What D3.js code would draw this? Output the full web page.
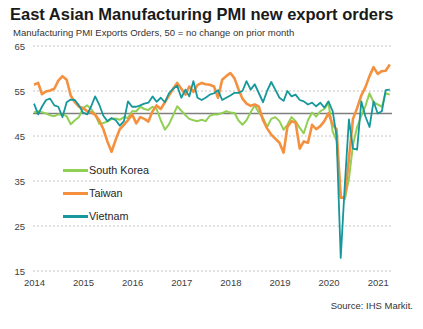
<!DOCTYPE html>
<html>
<head>
<meta charset="utf-8">
<script src="https://cdn.jsdelivr.net/npm/d3@7/dist/d3.min.js"></script>
<style>
  html, body { margin: 0; padding: 0; background: #ffffff; }
  svg { display: block; font-family: "Liberation Sans", Arial, sans-serif; }
</style>
</head>
<body>
<svg id="chart" width="423" height="329"></svg>
<script>
// ---- Data (monthly, Jan 2014 – Apr 2021) ----
const startYear = 2014;
const southKorea = [
  50.3, 50.5, 50.3, 50.0, 49.6, 49.4, 49.8, 49.8, 49.4, 47.6, 48.5, 49.2,
  51.2, 51.8, 51.0, 49.8, 47.7, 47.9, 48.2, 48.8, 48.9, 48.6, 49.2, 49.0,
  50.5, 50.5, 51.5, 51.0, 50.8, 51.5, 51.0, 48.5, 46.4, 47.6, 49.6, 51.6,
  50.6, 49.6, 48.8, 48.5, 48.3, 48.6, 48.3, 49.5, 49.8, 49.8, 50.1, 50.5,
  50.2, 50.1, 48.5, 47.5, 48.5, 50.3, 51.8, 50.2, 49.0, 47.0, 48.8, 49.2,
  48.3, 46.4, 47.5, 49.2, 48.3, 46.8, 45.6, 48.5, 50.2, 49.3, 50.5, 51.0,
  52.3, 46.0, 44.0, 31.5, 31.0, 35.5, 43.0, 47.0, 49.5, 51.6, 54.5, 52.5,
  52.0, 51.5, 54.5, 54.2
];
const taiwan = [
  56.4, 56.8, 54.3, 54.9, 55.1, 55.5, 57.3, 58.3, 57.5, 54.0, 52.5, 51.5,
  51.2, 50.5, 50.3, 49.7, 48.5, 46.5, 43.8, 41.5, 44.2, 46.5, 47.5, 48.5,
  49.8, 47.8, 49.2, 48.8, 48.2, 50.5, 51.8, 51.0, 52.5, 54.0, 55.5, 56.8,
  55.5, 54.2, 56.0, 54.8, 56.3, 56.8, 56.5, 56.4, 56.0, 53.5, 57.5, 58.3,
  59.0, 57.8, 55.5, 53.3, 52.2, 51.7, 52.0, 51.5, 48.5, 46.7, 45.3, 44.4,
  43.5, 41.3, 47.0, 48.3, 48.0, 42.2, 43.8, 43.5, 47.5, 46.5, 47.2, 48.3,
  50.1, 47.5, 46.5, 31.3, 31.3, 40.0, 48.8, 51.2, 54.0, 55.8, 58.3, 60.3,
  58.8, 59.4, 59.5, 60.9
];
const vietnam = [
  52.2, 49.8, 51.5, 53.0, 53.3, 51.8, 51.5, 49.2, 52.5, 53.1, 53.0, 51.8,
  50.2, 49.8, 51.5, 53.8, 52.0, 49.5, 48.3, 49.0, 48.5, 47.3, 48.3, 52.7,
  51.5, 51.5, 51.8, 52.2, 52.4, 53.8, 52.6, 53.5, 52.5, 54.5, 55.5, 56.2,
  53.5, 55.3, 53.8, 57.2, 53.5, 53.0, 53.5, 54.2, 54.5, 55.2, 53.0, 53.5,
  54.0, 54.6, 54.6, 55.0, 57.2, 55.3, 56.5, 54.5, 52.5, 55.0, 57.0, 55.3,
  53.5, 52.8, 55.0, 53.8, 54.2, 53.0, 52.7, 52.0, 52.4, 51.6, 52.4, 51.3,
  52.7, 50.5, 45.0, 17.9, 34.0, 48.7, 42.2, 42.0, 52.7, 49.4, 47.0, 52.7,
  50.0, 50.5, 55.2, 55.3
];
const yTicks = [15, 25, 35, 45, 55, 65];
const xTickYears = [2014, 2015, 2016, 2017, 2018, 2019, 2020, 2021];
const seriesNames = ["South Korea", "Taiwan", "Vietnam"];
const titleText = "East Asian Manufacturing PMI new export orders";
const subtitleText = "Manufacturing PMI Exports Orders, 50 = no change on prior month";
const sourceText = "Source: IHS Markit.";

// ---- Styles ----
const colors = { "South Korea": "#92cf55", "Taiwan": "#f5913e", "Vietnam": "#15979b" };
const widths = { "South Korea": 2, "Taiwan": 2.6, "Vietnam": 1.8 };

const svg = d3.select("#chart");

const dates = d3.range(southKorea.length).map(i => new Date(startYear, i, 1));
const x = d3.scaleTime()
  .domain([dates[0], dates[dates.length - 1]])
  .range([34, 389.8]);
const y = d3.scaleLinear().domain([15, 65]).range([271, 46]);

// Title & subtitle
svg.append("text").attr("x", 10).attr("y", 20)
  .attr("font-size", 16.5).attr("font-weight", "bold").attr("fill", "#1a1a1a")
  .text(titleText);
svg.append("text").attr("x", 13).attr("y", 36)
  .attr("font-size", 9.5).attr("fill", "#333")
  .text(subtitleText);

// Gridlines
const gridX0 = 33, gridX1 = 392;
svg.append("g").selectAll("line").data(yTicks).join("line")
  .attr("x1", gridX0).attr("x2", gridX1)
  .attr("y1", d => y(d)).attr("y2", d => y(d))
  .attr("stroke", "#c4c4c4").attr("stroke-width", 1)
  .attr("stroke-dasharray", "2,2");

// 50 reference line
svg.append("line")
  .attr("x1", gridX0).attr("x2", gridX1)
  .attr("y1", y(50)).attr("y2", y(50))
  .attr("stroke", "#7f7f7f").attr("stroke-width", 1.5);

// Y axis labels
const yAxis = svg.append("g").attr("transform", "translate(25,0)")
  .call(d3.axisLeft(y).tickValues(yTicks).tickSize(0).tickPadding(0));
yAxis.select(".domain").remove();
yAxis.selectAll("text").attr("font-size", 9.5).attr("fill", "#404040")
  .attr("font-family", "Liberation Sans, Arial, sans-serif");

// X axis labels
const xAxis = svg.append("g").attr("transform", "translate(0,286)")
  .call(d3.axisBottom(x)
    .tickValues(xTickYears.map(yr => new Date(yr, 0, 1)))
    .tickFormat(d3.timeFormat("%Y"))
    .tickSize(0).tickPadding(0));
xAxis.select(".domain").remove();
xAxis.selectAll("text").attr("y", 0).attr("dy", null)
  .attr("font-size", 9.5).attr("fill", "#404040")
  .attr("font-family", "Liberation Sans, Arial, sans-serif");

// Lines
const dataBySeries = { "South Korea": southKorea, "Taiwan": taiwan, "Vietnam": vietnam };
const line = d3.line().x((d, i) => x(dates[i])).y(d => y(d));
seriesNames.forEach(name => {
  svg.append("path")
    .datum(dataBySeries[name])
    .attr("d", line)
    .attr("fill", "none")
    .attr("stroke", colors[name])
    .attr("stroke-width", widths[name])
    .attr("stroke-linejoin", "round");
});

// Legend
const legend = svg.append("g");
seriesNames.forEach((name, i) => {
  const ly = 170.5 + i * 23;
  legend.append("line").attr("x1", 63).attr("x2", 88).attr("y1", ly).attr("y2", ly)
    .attr("stroke", colors[name]).attr("stroke-width", 3);
  legend.append("text").attr("x", 89).attr("y", ly + 3.8)
    .attr("font-size", 10.8).attr("fill", "#262626").text(name);
});

// Source
svg.append("text").attr("x", 413).attr("y", 308.5)
  .attr("text-anchor", "end").attr("font-size", 9.5).attr("fill", "#333")
  .text(sourceText);
</script>
</body>
</html>
